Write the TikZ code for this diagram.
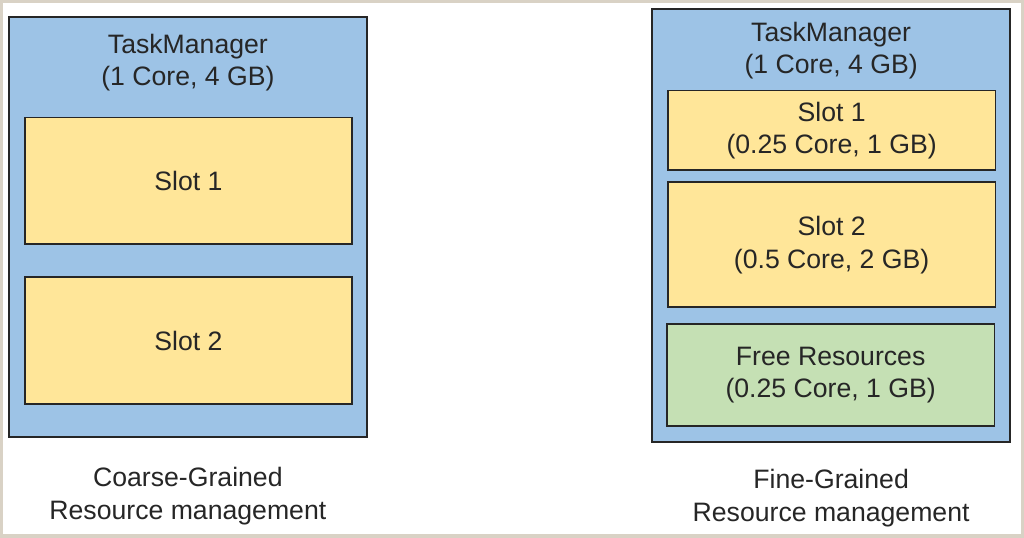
\documentclass[tikz,border=0pt]{standalone}
\usepackage{fontspec}
\setmainfont{Liberation Sans}
\usepackage{tikz}
\definecolor{tmblue}{HTML}{9DC3E6}
\definecolor{slotyellow}{HTML}{FFE699}
\definecolor{freegreen}{HTML}{C5E0B4}
\definecolor{framebeige}{HTML}{D9D2C5}
\definecolor{textgray}{HTML}{262626}
\newcommand{\lbl}{\fontsize{20}{24.5}\selectfont}
\begin{document}
\begin{tikzpicture}[x=0.75pt,y=-0.75pt,
		box/.style={draw=black!85, line width=1.4pt, inner sep=0pt},
		tm/.style={box, fill=tmblue, minimum width=269.25pt},
		slot/.style={box, fill=slotyellow, minimum width=246pt, text=textgray, align=center, font=\lbl},
		free/.style={box, fill=freegreen, minimum width=246pt, text=textgray, align=center, font=\lbl},
		caption/.style={text=textgray, align=center, font=\lbl, inner sep=0pt}]
		\fill[white] (0,0) rectangle (1024,537);
		\draw[framebeige, line width=2.4pt] (1,1) rectangle (1023,536);
		% coarse-grained
		\node[tm, minimum height=315.75pt] (tmL) at (187.5,226.5) {};
		\node[caption] (tmLlbl) at (187.5,62) {TaskManager\\(1 Core, 4 GB)};
		\node[slot, minimum height=95.25pt] (slotL1) at (188,180.5) {Slot 1};
		\node[slot, minimum height=95.25pt] (slotL2) at (188,340.5) {Slot 2};
		\node[caption] (capL) at (187.5,496) {Coarse-Grained\\Resource management};
		% fine-grained
		\node[tm, minimum height=325.5pt] (tmR) at (831.5,225) {};
		\node[caption] (tmRlbl) at (831.5,50) {TaskManager\\(1 Core, 4 GB)};
		\node[slot, minimum height=60pt] (slotR1) at (832,130) {Slot 1\\(0.25 Core, 1 GB)};
		\node[slot, minimum height=93.75pt] (slotR2) at (832,244.5) {Slot 2\\(0.5 Core, 2 GB)};
		\node[free, minimum height=76.5pt] (freeR) at (831,375) {Free Resources\\(0.25 Core, 1 GB)};
		\node[caption] (capR) at (831.5,498) {Fine-Grained\\Resource management};
	\end{tikzpicture}
\end{document}
